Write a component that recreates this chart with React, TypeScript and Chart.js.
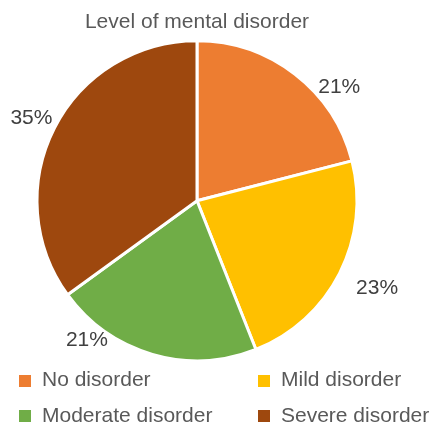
import { useEffect, useRef } from "react"
import { Chart, registerables } from "chart.js"

Chart.register(...registerables)

const categories = ["No disorder", "Mild disorder", "Moderate disorder", "Severe disorder"]
const shares = [21, 23, 21, 35]
const colors = ["#ED7D31", "#FFC000", "#70AD47", "#9E480E"]

const FONT = "'Liberation Sans', Arial, sans-serif"

// Excel moved a couple of labels off the slice's middle ray: turn (deg) and distance past the rim (px)
const labelNudge = [
  { turn: 13.6, out: 22 },
  { turn: -1.2, out: 40 },
  { turn: 22, out: 18 },
  { turn: -0.5, out: 25 },
]

const percentLabels = {
  id: "percentLabels",
  afterDatasetsDraw(chart: Chart) {
    const { ctx } = chart
    const meta = chart.getDatasetMeta(0)
    ctx.save()
    ctx.font = `21px ${FONT}`
    ctx.fillStyle = "#404040"
    ctx.textAlign = "center"
    ctx.textBaseline = "middle"
    meta.data.forEach((arc: any, i: number) => {
      const { x, y, startAngle, endAngle, outerRadius } = arc.getProps(
        ["x", "y", "startAngle", "endAngle", "outerRadius"],
        true
      )
      const nudge = labelNudge[i] || { turn: 0, out: 25 }
      const a = (startAngle + endAngle) / 2 + (nudge.turn * Math.PI) / 180
      const d = outerRadius + nudge.out
      ctx.fillText(`${shares[i]}%`, x + d * Math.cos(a), y + d * Math.sin(a))
    })
    ctx.restore()
  },
}

export default function App() {
  const chartRef = useRef<HTMLCanvasElement>(null)
  const chartInstance = useRef<Chart | null>(null)

  useEffect(() => {
    if (!chartRef.current) return
    if (chartInstance.current) chartInstance.current.destroy()

    const ctx = chartRef.current.getContext("2d")
    if (!ctx) return

    chartInstance.current = new Chart(ctx, {
      type: "pie",
      data: {
        labels: categories,
        datasets: [
          {
            data: shares,
            backgroundColor: colors,
            borderColor: "#ffffff",
            borderWidth: 3,
          },
        ],
      },
      options: {
        responsive: false,
        animation: false,
        events: [],
        layout: {
          padding: { left: 35.5, right: 70.5, top: 0, bottom: 60.8 },
        },
        plugins: {
          legend: { display: false },
          tooltip: { enabled: false },
          title: {
            display: true,
            text: "Level of mental disorder",
            color: "#595959",
            font: { family: FONT, size: 21, weight: "normal" },
            padding: { top: 10, bottom: 4 },
          },
        },
      },
      plugins: [percentLabels],
    })

    return () => {
      if (chartInstance.current) {
        chartInstance.current.destroy()
        chartInstance.current = null
      }
    }
  }, [])

  // two-column legend under the pie, like the Excel original
  const legendCols = [19, 258]
  const legendRows = [374.5, 410]

  return (
    <div style={{ position: "absolute", left: 0, top: 0, width: 429, height: 423, background: "#fff" }}>
      <canvas ref={chartRef} width={429} height={423} style={{ width: 429, height: 423, display: "block" }}></canvas>
      {categories.map((name, i) => {
        const left = legendCols[i % 2]
        const top = legendRows[Math.floor(i / 2)]
        return (
          <div key={name}>
            <span
              style={{
                position: "absolute",
                left,
                top,
                width: 12,
                height: 12,
                background: colors[i],
              }}
            />
            <span
              style={{
                position: "absolute",
                left: left + 23,
                top: top - 6.3,
                fontFamily: FONT,
                fontSize: 21,
                lineHeight: "21px",
                color: "#595959",
                whiteSpace: "nowrap",
              }}
            >
              {name}
            </span>
          </div>
        )
      })}
    </div>
  )
}
